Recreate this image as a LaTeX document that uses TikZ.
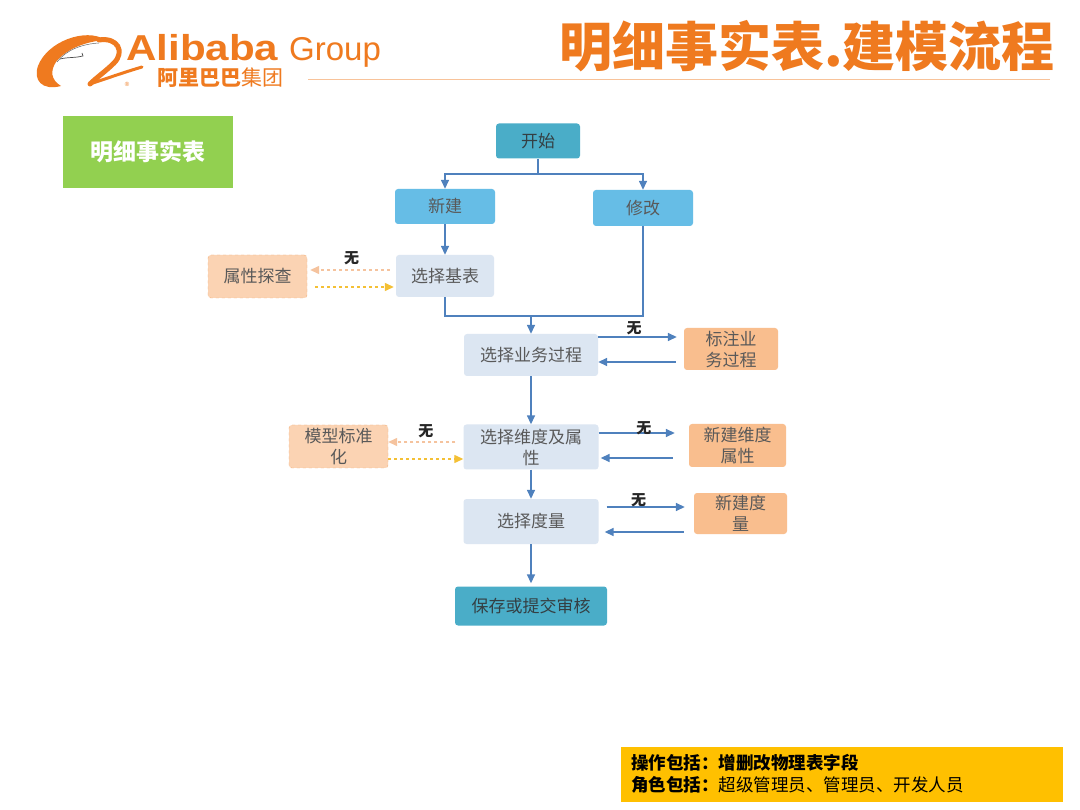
\documentclass[tikz,border=0pt]{standalone}
\usepackage{fontspec}
\newfontfamily\cjk{Noto Sans CJK SC}
\newfontfamily\lib{Liberation Sans}
\usetikzlibrary{arrows.meta}
\definecolor{ali}{HTML}{EF7A1F}
\definecolor{flow}{HTML}{4F81BD}
\definecolor{teal}{HTML}{4AADC8}
\definecolor{sky}{HTML}{66BDE6}
\definecolor{pale}{HTML}{DCE6F2}
\definecolor{peach}{HTML}{F9BE8E}
\definecolor{peachl}{HTML}{FBD3B3}
\definecolor{peachd}{HTML}{F2B486}
\definecolor{gold}{HTML}{F4C035}
\definecolor{txt}{HTML}{595959}
\definecolor{green}{HTML}{92D050}
\definecolor{banner}{HTML}{FFC000}
\begin{document}
\begin{tikzpicture}[x=1pt,y=-1pt,font=\cjk,
  box/.style={rounded corners=3pt,inner sep=0pt,align=center,text=txt,font=\cjk\fontsize{17}{21}\selectfont},
  startbox/.style={box,fill=teal,text=txt!80!teal!60!black},
  bluebox/.style={box,fill=sky},
  palebox/.style={box,fill=pale},
  orbox/.style={box,fill=peach},
  dashbox/.style={box,fill=peachl,draw=peachd!90!orange,dashed},
  line/.style={draw=flow,line width=1.5pt},
  arr/.style={line,-{Triangle[length=9pt,width=8pt]}},
  darr/.style={dashed,line width=1.3pt,-{Triangle[length=9pt,width=8pt]}},
  lbl/.style={font=\cjk\bfseries\fontsize{15}{16}\selectfont,text=black!85,inner sep=1pt}
]
\useasboundingbox (0,0) rectangle (1080,810);
\fill[white] (0,0) rectangle (1080,810);

% header logo
\fill[ali] (106,40) .. controls (85,27) and (47,42) .. (38,66) .. controls (33,80) and (42,91) .. (61,86)
  .. controls (51,80) and (50,71) .. (56,62) .. controls (67,48) and (88,41) .. (106,40) -- cycle;
\draw[ali,line width=5pt,line cap=round] (99,40) .. controls (118,37) and (125,52) .. (114,63) .. controls (106,71) and (96,78) .. (90,84);
\draw[ali,line width=3pt,line cap=round] (90,84) .. controls (105,79) and (125,72) .. (142,67);
\draw[black!70,line width=0.7pt] (60,59) .. controls (68,57) and (76,58) .. (83,56) -- (82,53);
\draw[black!60,line width=0.5pt] (57,62) .. controls (66,50) and (82,44) .. (99,43);
\node[ali,font=\lib\fontsize{6}{6}\selectfont,inner sep=0pt] (reg) at (127,84) {®};
\node[ali,anchor=base west,inner sep=0pt,font=\lib\bfseries\fontsize{36}{36}\selectfont] (alibaba) at (126,61) {\scalebox{1.17}[1]{Alibaba}};
\node[ali,anchor=base west,inner sep=0pt,font=\lib\fontsize{33}{34}\selectfont] (group) at (289,61) {Group};
\node[ali,anchor=west,inner sep=0pt,font=\cjk\fontsize{21}{22}\selectfont] (cn) at (157,78) {\textbf{阿里巴巴}集团};
\node[ali,anchor=east,inner sep=0pt,font=\cjk\bfseries\fontsize{53}{56}\selectfont] (title) at (1055,46) {明细事实表.建模流程};
\coordinate (hl1) at (308,79);
\coordinate (hl2) at (1050,79);
\draw[ali!45,line width=0.9pt] (hl1) -- (hl2);

% green tag
\node[fill=green,minimum width=170pt,minimum height=72pt,inner sep=0pt,text=white,font=\cjk\bfseries\fontsize{23}{26}\selectfont] (tag) at (148,152) {明细事实表};

% flow nodes
\node[startbox,minimum width=84pt,minimum height=35pt] (start) at (538,141) {开始};
\node[bluebox,minimum width=100pt,minimum height=35pt] (new) at (445,206.5) {新建};
\node[bluebox,minimum width=100pt,minimum height=36pt] (mod) at (643,208) {修改};
\node[palebox,minimum width=98pt,minimum height=42pt] (base) at (445,276) {选择基表};
\node[dashbox,minimum width=99pt,minimum height=43pt] (probe) at (257.5,276.5) {属性探查};
\node[palebox,minimum width=134pt,minimum height=42pt] (proc) at (531,355) {选择业务过程};
\node[orbox,minimum width=94pt,minimum height=42pt] (mark) at (731,349) {标注业\\务过程};
\node[palebox,minimum width=135pt,minimum height=45pt] (dim) at (531,447) {选择维度及属\\性};
\node[orbox,minimum width=97pt,minimum height=43pt] (newdim) at (737.5,445.5) {新建维度\\属性};
\node[dashbox,minimum width=99pt,minimum height=43pt] (norm) at (338.5,446.5) {模型标准\\化};
\node[palebox,minimum width=135pt,minimum height=45pt] (meas) at (531,521.5) {选择度量};
\node[orbox,minimum width=93pt,minimum height=41pt] (newmeas) at (740.5,513.5) {新建度\\量};
\node[startbox,minimum width=152pt,minimum height=39pt] (save) at (531,606) {保存或提交审核};

% main connectors
\coordinate (j1) at (start.south |- 0,174);
\draw[line] (start.south) -- (j1);
\draw[arr] (j1) -| (new.north);
\draw[arr] (j1) -| (mod.north);
\draw[arr] (new.south) -- (base.north);
\coordinate (j2) at (proc.north |- 0,316);
\draw[line] (base.south) |- (j2) -| (mod.south);
\draw[arr] (j2) -- (proc.north);
\draw[arr] (proc.south) -- (dim.north);
\draw[arr] (dim.south) -- (meas.north);
\draw[arr,shorten >=3pt] (meas.south) -- (save.north);

% side loops
\draw[arr,shorten >=7pt] (proc.east |- 0,337) -- node[lbl,above,pos=0.42]{无} (mark.west |- 0,337);
\draw[arr,shorten <=8pt] (mark.west |- 0,362) -- (proc.east |- 0,362);
\draw[arr,shorten >=14pt] (dim.east |- 0,433) -- node[lbl,above,pos=0.5,yshift=-4pt]{无} (newdim.west |- 0,433);
\draw[arr,shorten <=16pt,shorten >=2pt] (newdim.west |- 0,458) -- (dim.east |- 0,458);
\draw[arr,shorten <=8pt,shorten >=9pt] (meas.east |- 0,507) -- node[lbl,above,pos=0.42,yshift=-2pt]{无} (newmeas.west |- 0,507);
\draw[arr,shorten <=10pt,shorten >=6pt] (newmeas.west |- 0,532) -- (meas.east |- 0,532);

\draw[darr,draw=peachd!80,shorten <=6pt,shorten >=3pt] (base.west |- 0,270) -- node[lbl,above,pos=0.5,yshift=3pt]{无} (probe.east |- 0,270);
\draw[darr,draw=gold,shorten <=8pt,shorten >=2pt] (probe.east |- 0,287) -- (base.west |- 0,287);
\draw[darr,draw=peachd!80,shorten <=8pt] (dim.west |- 0,442) -- node[lbl,above,pos=0.5,yshift=2pt]{无} (norm.east |- 0,442);
\draw[darr,draw=gold] (norm.east |- 0,459) -- (dim.west |- 0,459);

% banner
\node[fill=banner,minimum width=442pt,minimum height=55pt,inner sep=0pt] (ban) at (842,774.5) {};
\node[anchor=west,inner sep=0pt,font=\cjk\fontsize{17.5}{20}\selectfont] (b1) at (631,763) {\textbf{操作包括：增删改物理表字段}};
\node[anchor=west,inner sep=0pt,font=\cjk\fontsize{17.5}{20}\selectfont] (b2) at (631,785) {\textbf{角色包括：}超级管理员、管理员、开发人员};
\end{tikzpicture}
\end{document}
